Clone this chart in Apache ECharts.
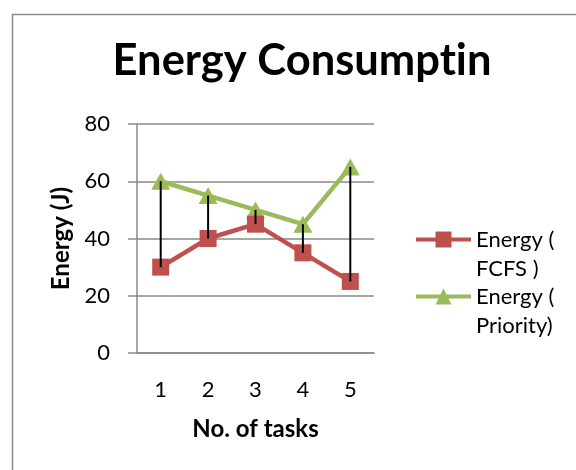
<!DOCTYPE html>
<html>
<head>
<meta charset="utf-8">
<script src="https://cdn.jsdelivr.net/npm/echarts@6/dist/echarts.min.js"></script>
<style>
html,body{margin:0;padding:0;background:#fff;}
#c{width:576px;height:470px;}
</style>
</head>
<body>
<div id="c"></div>
<script>
var categories = ['1', '2', '3', '4', '5'];
var fcfsValues = [30, 40, 45, 35, 25];
var priorityValues = [60, 55, 50, 45, 65];
var yTicks = { min: 0, max: 80, interval: 20 };
var titleText = 'Energy Consumpt\u200Cin';
var fcfsName = 'Energy ( FCFS )';
var priorityName = 'Energy ( Priority)';

var FONT = 'Lato';
var chart = echarts.init(document.getElementById('c'), null, { renderer: 'canvas' });

var hiLo = categories.map(function (c, i) { return [i, fcfsValues[i], priorityValues[i]]; });

var option = {
  backgroundColor: '#ffffff',
  animation: false,
  graphic: [{
    type: 'rect', left: 10, top: 12, silent: true,
    shape: { width: 620, height: 520 },
    style: { fill: 'none', stroke: '#8a8a8a', lineWidth: 1.5 }
  }],
  title: {
    text: titleText, left: 297, top: 34, textAlign: 'center',
    textStyle: { fontFamily: FONT, fontWeight: 'bold', fontSize: 43.5, color: '#000' }
  },
  legend: [{
    data: [fcfsName], orient: 'vertical', left: 414, top: 196, padding: 0,
    itemWidth: 55, itemHeight: 20,
    lineStyle: { width: 4 },
    formatter: function () { return '\nEnergy (\nFCFS )'; },
    textStyle: { fontFamily: FONT, fontSize: 22, color: '#000', lineHeight: 29 }
  }, {
    data: [priorityName], orient: 'vertical', left: 414, top: 253, padding: 0,
    itemWidth: 55, itemHeight: 20,
    lineStyle: { width: 4 },
    formatter: function () { return '\nEnergy (\nPriority)'; },
    textStyle: { fontFamily: FONT, fontSize: 22, color: '#000', lineHeight: 29 }
  }],
  grid: { left: 137, right: 202, top: 124, bottom: 117 },
  xAxis: {
    type: 'category', data: categories, boundaryGap: true,
    name: 'No. of tasks', nameLocation: 'middle', nameGap: 64,
    nameTextStyle: { fontFamily: FONT, fontWeight: 'bold', fontSize: 24, color: '#000' },
    axisLine: { lineStyle: { color: '#8a8a8a', width: 1.5 } },
    axisTick: { show: false },
    axisLabel: { fontFamily: FONT, fontSize: 22, color: '#000', margin: 26 }
  },
  yAxis: {
    type: 'value', min: yTicks.min, max: yTicks.max, interval: yTicks.interval,
    name: 'Energy (J)', nameLocation: 'middle', nameGap: 64, nameRotate: 90,
    nameTextStyle: { fontFamily: FONT, fontWeight: 'bold', fontSize: 24, color: '#000' },
    axisLine: { show: true, lineStyle: { color: '#8a8a8a', width: 1.5 } },
    axisTick: { show: true, length: 9, lineStyle: { color: '#8a8a8a', width: 1.5 } },
    splitLine: { lineStyle: { color: '#8a8a8a', width: 1.5 } },
    axisLabel: { fontFamily: FONT, fontSize: 22, color: '#000', margin: 27 }
  },
  series: [{
    name: fcfsName, type: 'line', data: fcfsValues,
    symbol: 'rect', symbolSize: 17,
    lineStyle: { color: '#c0504d', width: 4.5 },
    itemStyle: { color: '#c0504d' }, z: 3
  }, {
    name: priorityName, type: 'line', data: priorityValues,
    symbol: 'triangle', symbolSize: [19, 17],
    lineStyle: { color: '#9bbb59', width: 4.5 },
    itemStyle: { color: '#9bbb59' }, z: 2
  }, {
    type: 'custom', data: hiLo, z: 10, silent: true,
    renderItem: function (params, api) {
      var p1 = api.coord([api.value(0), api.value(1)]);
      var p2 = api.coord([api.value(0), api.value(2)]);
      return { type: 'line', shape: { x1: p1[0], y1: p1[1], x2: p2[0], y2: p2[1] },
               style: { stroke: '#000', lineWidth: 2 } };
    }
  }]
};
chart.setOption(option);
</script>
</body>
</html>
